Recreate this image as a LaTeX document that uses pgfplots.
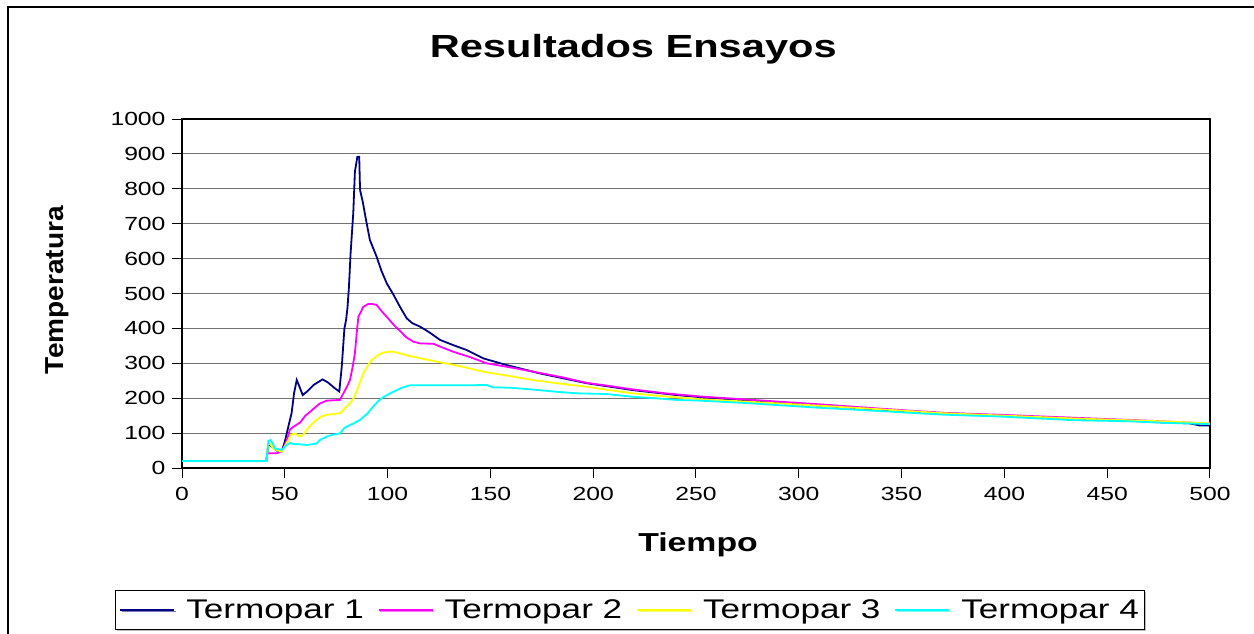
\documentclass[border=0pt]{standalone}
\usepackage{fontspec}
\setmainfont{Liberation Sans}[FakeStretch=1.3]
\newfontfamily\ylabfont{Liberation Sans}[FakeStretch=1.08]
\usepackage{pgfplots}
\pgfplotsset{compat=1.18}
\usetikzlibrary{shadows}
\definecolor{tone}{RGB}{0,0,128}
\definecolor{ttwo}{RGB}{255,0,255}
\definecolor{tthree}{RGB}{255,255,0}
\definecolor{tfour}{RGB}{0,255,255}
\begin{document}
\begin{tikzpicture}
\useasboundingbox (0pt,0pt) rectangle (1254pt,-634pt);
\draw[line width=1.6pt] (8pt,-640pt) -- (8pt,-7pt) -- (1260pt,-7pt);
\begin{axis}[
  at={(182pt,-468pt)}, anchor=south west,
  width=1028pt, height=349pt, scale only axis,
  xmin=0, xmax=500, ymin=0, ymax=1000,
  xtick={0,50,...,500}, ytick={0,100,...,1000},
  xtick pos=left, ytick pos=left,
  tick align=outside, major tick length=10pt,
  tick style={black, line width=1pt},
  axis line style={black, line width=1.2pt},
  ymajorgrids, grid style={black!55, line width=0.9pt},
  /pgf/number format/assume math mode=true,
  /pgf/number format/1000 sep={},
  ticklabel style={font=\fontsize{19}{19}\selectfont},
  yticklabel style={xshift=-3pt},
  xticklabel style={yshift=-6pt},
  title={Resultados Ensayos},
  title style={at={(0.439,1.183)}, anchor=center, font=\fontsize{32}{32}\selectfont\bfseries},
  xlabel={Tiempo},
  xlabel style={at={(0.502,-0.221)}, anchor=center, font=\fontsize{26}{26}\selectfont\bfseries},
  ylabel={Temperatura},
  ylabel style={at={(-0.1216,0.51)}, anchor=center, rotate=0, font=\fontsize{26}{26}\ylabfont\bfseries},
  legend columns=4,
  legend style={at={(0.436,-0.407)}, anchor=center, draw=black, line width=1pt,
    fill=white, inner xsep=4pt, inner ysep=4pt, font=\fontsize{27}{27}\selectfont,
    drop shadow={shadow xshift=1.5pt, shadow yshift=-1.5pt, fill=black!50},
    /tikz/every odd column/.append style={column sep=9pt},
    /tikz/every even column/.append style={column sep=12pt},
    nodes={inner ysep=5pt}},
  legend image code/.code={\draw[#1, line width=1.8pt] (0pt,0pt) -- (54pt,0pt);},
  every axis plot/.append style={line width=1.8pt},
]
\addplot[tone] coordinates {
(0,20) (41,20) (42,68) (43.6,62) (46,50) (48.5,47) (50,75) (51.7,118) (53.3,157)
(54.5,214) (55.8,252) (57,235) (58.7,209) (61,220) (64,238) (68.4,254) (71,245)
(74,230) (76.5,219) (77.7,290) (79,400) (79.8,424) (80.5,460) (81.2,519) (82,615)
(83.3,730) (84.1,849) (85.3,892) (86.2,892) (86.6,797) (88,760) (89.5,711)
(91.4,653) (94.7,605) (97,565) (99.6,529) (103,495) (106,462) (109.3,429) (112,415)
(115.8,405) (120,390) (125.5,367) (132,352) (138.5,338) (146.6,314) (157.9,295)
(174.1,271) (196.8,243) (219.5,223) (240.6,209) (252,203) (300,183) (350,163)
(400,150) (450,139) (475,131) (490,128) (495,122) (500,122)
};
\addlegendentry{Termopar 1}
\addplot[ttwo] coordinates {
(0,20) (41,20) (41.5,42) (46,42) (47.5,45) (49.3,56) (51,80) (52.5,110) (54.2,118)
(56,125) (57.4,130) (60,150) (62.3,161) (65,175) (67.1,185) (70.4,193) (76.8,195)
(78.5,214) (80,230) (81.7,252) (83,290) (84.1,329) (85.2,400) (85.8,433) (88.2,462)
(90.6,470) (92.5,470) (94.7,467) (97,450) (99.6,433) (103,410) (106,393) (109,375)
(112.5,362) (115.8,357) (122.3,356) (125.5,348) (132,333) (140,318) (148.2,300)
(160,288) (170.9,276) (185,260) (196.8,244) (208,235) (219.5,225) (235,214)
(252,205) (275,196) (308.7,183) (340,170) (370,158) (400,152) (433.6,144)
(460,138) (480,133) (500,127)
};
\addlegendentry{Termopar 2}
\addplot[tthree] coordinates {
(0,20) (41,20) (42,75) (44.4,56) (46.5,50) (48.5,47) (50,62) (51.7,80) (53,95)
(55,99) (57.4,90) (59,95) (60.6,109) (63,125) (65.5,138) (68,148) (70.4,152)
(74,155) (76.8,157) (79,170) (81.7,185) (83.5,200) (85.8,233) (88.2,271) (90,290)
(92.2,309) (95,322) (97.9,331) (102,334) (104.4,331) (108,325) (112.5,319)
(118,312) (125.5,303) (135,292) (146.6,276) (160,263) (170.9,252) (185,241)
(196.8,233) (208,223) (219.5,214) (235,205) (252,197) (275,190) (308.7,179)
(340,168) (370,157) (400,150) (433.6,142) (460,137) (480,133) (500,128)
};
\addlegendentry{Termopar 3}
\addplot[tfour] coordinates {
(0,20) (41,20) (42,77) (43,80) (44,72) (45.2,56) (48.5,52) (50.9,66) (52.5,72)
(54.2,69) (57,68) (60.6,66) (63,68) (65.5,70) (67,80) (70.4,90) (73,95) (76.8,99)
(79,115) (81.7,123) (83.5,128) (86.6,138) (90,155) (93,176) (95.5,192) (97.9,203)
(101,213) (104.4,223) (107,230) (110.9,237) (120,237) (130,237) (140,237)
(148.2,238) (151.4,231) (160,230) (174.1,223) (183,218) (191.9,214) (206.5,212)
(213,208) (219.5,204) (230,200) (240.6,195) (252,193) (275,186) (308.7,173)
(340,163) (370,153) (400,147) (433.6,137) (460,134) (480,129) (500,126)
};
\addlegendentry{Termopar 4}
\end{axis}
\end{tikzpicture}
\end{document}
